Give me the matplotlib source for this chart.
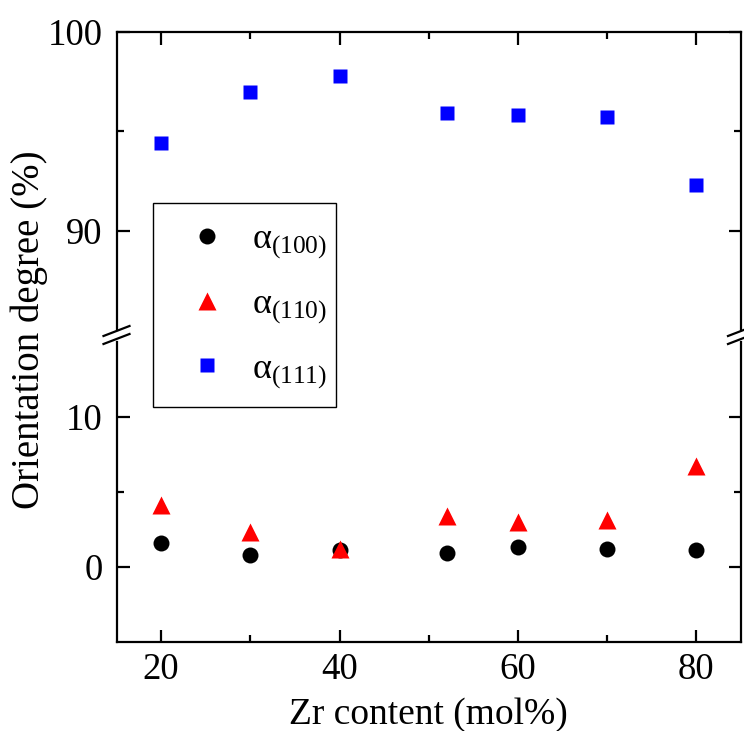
"""
Orientation degree vs Zr content, broken y axis
"""
import matplotlib
matplotlib.use("Agg")
import matplotlib.pyplot as plt
from matplotlib.patches import Rectangle
from matplotlib.ticker import FixedLocator

# 数据
zr_content = [20, 30, 40, 52, 60, 70, 80]
alpha_100 = [1.6, 0.8, 1.1, 0.9, 1.3, 1.2, 1.1]
alpha_110 = [4.1, 2.3, 1.2, 3.4, 3.0, 3.1, 6.7]
alpha_111 = [94.4, 97.0, 97.8, 95.9, 95.8, 95.7, 92.3]

x_major = [20, 40, 60, 80]
x_minor = [30, 50, 70]
top_major = [90, 100]
top_minor = [95]
bottom_major = [0, 10]
bottom_minor = [5]

plt.rcParams['font.family'] = ['Liberation Serif', 'DejaVu Serif']
plt.rcParams['mathtext.fontset'] = 'custom'
plt.rcParams['mathtext.rm'] = 'Liberation Serif'
plt.rcParams['mathtext.default'] = 'rm'

W, H = 744, 731
fig = plt.figure(figsize=(W / 100, H / 100), dpi=100)

# 轴的位置（像素 -> 比例）
left, right = 116.5, 741
ax_top = fig.add_axes([left / W, 1 - 330 / H, (right - left) / W, (330 - 32) / H])
ax_bot = fig.add_axes([left / W, 1 - 641.7 / H, (right - left) / W, (641.7 - 341.7) / H])

ax_top.set_ylim(85, 100)
ax_bot.set_ylim(-5, 15)
for ax in (ax_top, ax_bot):
    ax.set_xlim(15, 85)
    ax.xaxis.set_major_locator(FixedLocator(x_major))
    ax.xaxis.set_minor_locator(FixedLocator(x_minor))
    for s in ax.spines.values():
        s.set_linewidth(1.6)
    ax.tick_params(which='both', direction='in', width=1.6, labelsize=26.5,
                   left=True, right=True)
    ax.tick_params(which='major', length=9)
    ax.tick_params(which='minor', length=5)

ax_top.yaxis.set_major_locator(FixedLocator(top_major))
ax_top.yaxis.set_minor_locator(FixedLocator(top_minor))
ax_bot.yaxis.set_major_locator(FixedLocator(bottom_major))
ax_bot.yaxis.set_minor_locator(FixedLocator(bottom_minor))

ax_top.spines['bottom'].set_visible(False)
ax_bot.spines['top'].set_visible(False)
ax_top.tick_params(which='both', bottom=False, top=True, labelbottom=False)
ax_bot.tick_params(which='both', bottom=True, top=False)
ax_top.tick_params(axis='y', pad=10)
ax_bot.tick_params(axis='y', pad=10)
ax_bot.tick_params(axis='x', pad=8)

# 数据点
h1 = ax_bot.plot(zr_content, alpha_100, 'o', color='black', ms=11.5, mec='none')[0]
h2 = ax_bot.plot(zr_content, alpha_110, '^', color='#ff0000', ms=12.5, mec='none')[0]
h3 = ax_top.plot(zr_content, alpha_111, 's', color='#0000ff', ms=10, mec='none')[0]

# 断轴标记
kw = dict(color='black', lw=1.6, clip_on=False, transform=fig.transFigure)
for xs in (left, right):
    for yc in (331, 339):
        x0, x1 = xs - 13, xs + 13
        fig.add_artist(plt.Line2D([x0 / W, x1 / W], [1 - (yc + 5) / H, 1 - (yc - 5) / H], **kw))

ax_bot.set_xlabel('Zr content (mol%)', fontsize=27, labelpad=7)
fig.text(29 / W, 1 - 330 / H, 'Orientation degree (%)', rotation=90,
         fontsize=28, ha='center', va='center')

# 图例（边框单独画，跨两个子图）
fig.add_artist(Rectangle((153 / W, 1 - 407 / H), (336 - 153) / W, (407 - 203) / H,
                         transform=fig.transFigure, fill=False, ec='black', lw=1.0))
leg = fig.legend([h1, h2, h3],
                 ['α$_{(100)}$', 'α$_{(110)}$', 'α$_{(111)}$'],
                 loc='upper left', bbox_to_anchor=(180 / W, 1 - 223 / H),
                 fontsize=26, frameon=False, borderpad=0, labelspacing=0.75,
                 handlelength=1.5, handletextpad=0.5, borderaxespad=0)

fig.savefig('out.png', dpi=100)
